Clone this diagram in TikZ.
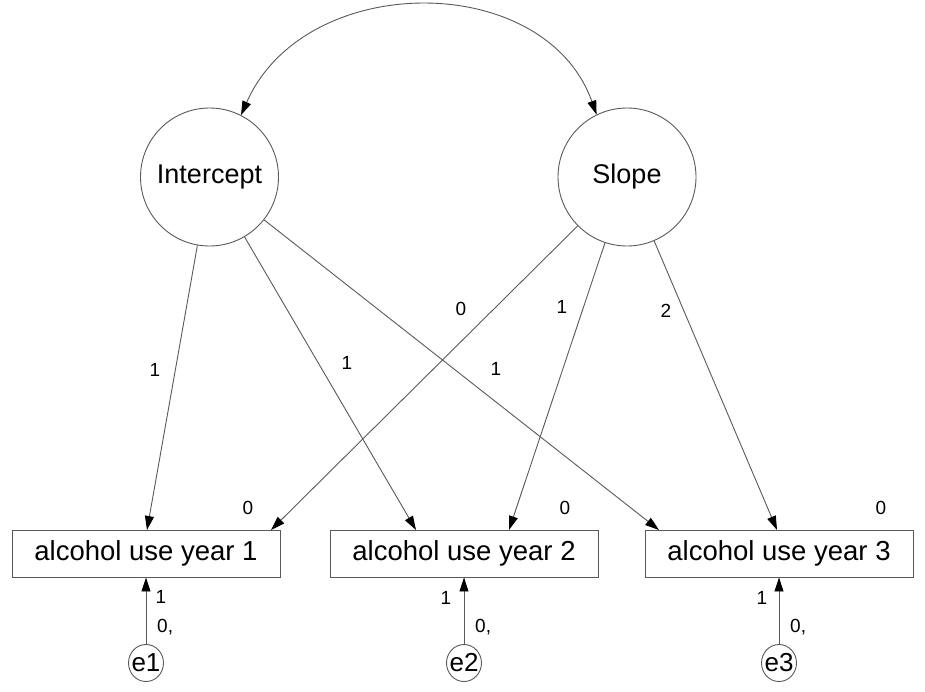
\documentclass[tikz,border=0pt]{standalone}
\usepackage{fontspec}
\setmainfont{Liberation Sans}
\usetikzlibrary{arrows.meta,shapes.geometric}
\begin{document}
\begin{tikzpicture}[x=1pt,y=-1pt,
 line/.style={draw=black!65, line width=0.9pt},
 arr/.style={line, -{Triangle[length=14pt,width=9pt,black]}},
 latent/.style={circle, line, minimum size=138pt, inner sep=0pt, font=\fontsize{27}{31}\selectfont},
 obs/.style={rectangle, line, minimum width=268pt, minimum height=47pt, inner sep=0pt, font=\fontsize{27.5}{31}\selectfont},
 err/.style={ellipse, line, minimum width=35pt, minimum height=37pt, inner sep=0pt, font=\fontsize{26}{30}\selectfont},
 lab/.style={inner sep=0pt, font=\fontsize{19}{21}\selectfont}]
\useasboundingbox (0,0) rectangle (925,691);
% latent variables
\node[latent] (I) at (209.5,177) {Intercept};
\node[latent] (S) at (627,177) {Slope};
% observed
\node[obs] (y1) at (146,553.5) {alcohol use year 1};
\node[obs] (y2) at (464,553.5) {alcohol use year 2};
\node[obs] (y3) at (779,553.5) {alcohol use year 3};
% errors
\node[err] (e1) at (146,663) {\makebox[0pt]{e1}};
\node[err] (e2) at (464,663) {\makebox[0pt]{e2}};
\node[err] (e3) at (779,663) {\makebox[0pt]{e3}};
% targets on box tops
\coordinate (t11) at (147,530);
\coordinate (t21) at (271,530);
\coordinate (t12) at (416,530);
\coordinate (t22) at (509,530);
\coordinate (t13) at (659,530);
\coordinate (t23) at (777,530);
% covariance
\draw[line, {Triangle[length=14pt,width=9pt,black]}-{Triangle[length=14pt,width=9pt,black]}]
  (I.63) .. controls (305,-30) and (545,-30) .. (S.116);
% loadings
\draw[arr] (I) -- (t11);
\draw[arr] (I) -- (t12);
\draw[arr] (I) -- (t13);
\draw[arr] (S) -- (t21);
\draw[arr] (S) -- (t22);
\draw[arr] (S) -- (t23);
% error paths
\draw[arr] (e1) -- (e1 |- y1.south);
\draw[arr] (e2) -- (e2 |- y2.south);
\draw[arr] (e3) -- (e3 |- y3.south);
% loading labels
\node[lab] (l11) at (155,370) {1};
\node[lab] (l12) at (347,363) {1};
\node[lab] (l13) at (496,369) {1};
\node[lab] (l21) at (461,309) {0};
\node[lab] (l22) at (562,307) {1};
\node[lab] (l23) at (666,311) {2};
% intercept labels
\node[lab] (z1) at (248,508) {0};
\node[lab] (z2) at (565,508) {0};
\node[lab] (z3) at (881,508) {0};
% error labels
\node[lab] (f1) at (161,597) {1};
\node[lab] (f2) at (446,598) {1};
\node[lab] (f3) at (762,598) {1};
\node[lab, anchor=west] (g1) at (157,627) {0,};
\node[lab, anchor=west] (g2) at (475,627) {0,};
\node[lab, anchor=west] (g3) at (790,627) {0,};
\end{tikzpicture}
\end{document}
